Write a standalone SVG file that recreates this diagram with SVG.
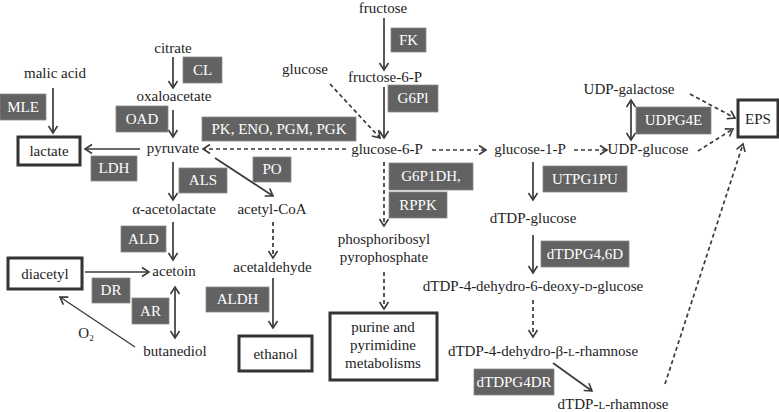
<svg xmlns="http://www.w3.org/2000/svg" width="779" height="412" viewBox="0 0 779 412">
<defs>
<marker id="ah" viewBox="-9 -6 11 12" refX="0" refY="0" markerWidth="11" markerHeight="12" markerUnits="userSpaceOnUse" orient="auto-start-reverse">
<path d="M-7,-4.5 L0,0 L-7,4.5" fill="none" stroke="#3a3a3a" stroke-width="1.6"/>
</marker>
<style>
text{font-family:"Liberation Serif","Times New Roman",serif;font-size:15px;fill:#1e1e1e;text-anchor:middle}
.enz rect{fill:#626262;stroke:#8a8a8a;stroke-width:0.8}
.enz text{fill:#ffffff}
.box rect{fill:#ffffff;stroke:#333333;stroke-width:3}
.s{fill:none;stroke:#3a3a3a;stroke-width:1.7;marker-end:url(#ah)}
.d{fill:none;stroke:#3a3a3a;stroke-width:1.7;stroke-dasharray:4 3;marker-end:url(#ah)}
.b{marker-start:url(#ah)}
.sc{font-size:11px}
</style>
</defs>

<g id="connectors">
<line class="s" x1="384" y1="18" x2="384" y2="70"/>
<line class="s" x1="384" y1="87" x2="384" y2="138"/>
<line class="d" x1="330" y1="84" x2="380" y2="138"/>
<line class="d" x1="346" y1="149" x2="203" y2="149"/>
<line class="d" x1="432" y1="150" x2="486" y2="150"/>
<line class="d" x1="574" y1="150" x2="607" y2="150"/>
<line class="s b" x1="631" y1="100" x2="631" y2="140"/>
<line class="d" x1="690" y1="94" x2="735" y2="118"/>
<line class="d" x1="698" y1="151" x2="733" y2="129"/>
<line class="d" x1="665" y1="384" x2="743" y2="144"/>
<line class="s" x1="53" y1="88" x2="53" y2="133"/>
<line class="s" x1="173" y1="57" x2="173" y2="88"/>
<line class="s" x1="173" y1="110" x2="173" y2="137"/>
<line class="s" x1="140" y1="149" x2="85" y2="149"/>
<line class="s" x1="173" y1="162" x2="173" y2="200"/>
<line class="s" x1="173" y1="222" x2="173" y2="260"/>
<line class="s" x1="85" y1="272" x2="149" y2="272"/>
<line class="s b" x1="175" y1="287" x2="175" y2="338"/>
<line class="s" x1="135" y1="347" x2="60" y2="297" style="stroke-width:1.3"/>
<line class="s" x1="215" y1="158" x2="273" y2="196"/>
<line class="d" x1="273" y1="222" x2="273" y2="258"/>
<line class="s" x1="273" y1="278" x2="273" y2="328"/>
<line class="d" x1="384" y1="162" x2="384" y2="226"/>
<line class="d" x1="384" y1="272" x2="384" y2="309"/>
<line class="s" x1="533" y1="162" x2="533" y2="200"/>
<line class="s" x1="533" y1="235" x2="533" y2="273"/>
<line class="d" x1="533" y1="300" x2="533" y2="337"/>
<line class="s" x1="553" y1="363" x2="592" y2="391"/>
</g>

<g id="fructose"><text x="383" y="13">fructose</text></g>
<g id="fructose-6-P"><text x="385" y="82">fructose-6-P</text></g>
<g id="glucose"><text x="305" y="74">glucose</text></g>
<g id="glucose-6-P"><text x="387" y="154">glucose-6-P</text></g>
<g id="citrate"><text x="173" y="53">citrate</text></g>
<g id="malic-acid"><text x="55" y="78">malic acid</text></g>
<g id="oxaloacetate"><text x="174" y="101">oxaloacetate</text></g>
<g id="pyruvate"><text x="173" y="153">pyruvate</text></g>
<g id="acetolactate"><text x="174" y="214">α-acetolactate</text></g>
<g id="acetoin"><text x="174" y="276">acetoin</text></g>
<g id="butanediol"><text x="175" y="356">butanediol</text></g>
<g id="o2"><text x="86" y="338">O<tspan font-size="9" dy="3">2</tspan></text></g>
<g id="acetyl-CoA"><text x="272" y="214">acetyl-CoA</text></g>
<g id="acetaldehyde"><text x="272.5" y="272">acetaldehyde</text></g>
<g id="prpp"><text x="384" y="244">phosphoribosyl</text><text x="384" y="262">pyrophosphate</text></g>
<g id="glucose-1-P"><text x="530" y="154">glucose-1-P</text></g>
<g id="UDP-glucose"><text x="648" y="154">UDP-glucose</text></g>
<g id="UDP-galactose"><text x="629" y="94">UDP-galactose</text></g>
<g id="dTDP-glucose"><text x="533" y="223">dTDP-glucose</text></g>
<g id="dTDP-deoxy-glucose"><text x="533" y="291">dTDP-4-dehydro-6-deoxy-<tspan class="sc">D</tspan>-glucose</text></g>
<g id="dTDP-keto-rhamnose"><text x="543" y="356">dTDP-4-dehydro-β-<tspan class="sc">L</tspan>-rhamnose</text></g>
<g id="dTDP-rhamnose"><text x="613" y="409">dTDP-<tspan class="sc">L</tspan>-rhamnose</text></g>

<g id="lactate" class="box"><rect x="18" y="137" width="62" height="28"/><text x="49" y="156">lactate</text></g>
<g id="diacetyl" class="box"><rect x="8" y="258" width="74" height="31"/><text x="45" y="279">diacetyl</text></g>
<g id="ethanol" class="box"><rect x="239" y="336" width="73" height="35"/><text x="275.5" y="359">ethanol</text></g>
<g id="purine" class="box"><rect x="330" y="313" width="107" height="67"/><text x="383" y="332">purine and</text><text x="383" y="350">pyrimidine</text><text x="383" y="368">metabolisms</text></g>
<g id="EPS" class="box"><rect x="738" y="100" width="40" height="37"/><text x="758" y="124">EPS</text></g>

<g id="MLE" class="enz"><rect x="0" y="94" width="46" height="26"/><text x="23" y="112">MLE</text></g>
<g id="CL" class="enz"><rect x="183" y="57" width="39" height="26"/><text x="202.5" y="75">CL</text></g>
<g id="OAD" class="enz"><rect x="116" y="106" width="52" height="26"/><text x="142" y="124">OAD</text></g>
<g id="PK" class="enz"><rect x="202" y="117" width="154" height="24"/><text x="279" y="134">PK, ENO, PGM, PGK</text></g>
<g id="LDH" class="enz"><rect x="91" y="156" width="46" height="25"/><text x="114" y="173">LDH</text></g>
<g id="ALS" class="enz"><rect x="179" y="168" width="48" height="25"/><text x="203" y="185">ALS</text></g>
<g id="PO" class="enz"><rect x="253" y="157" width="38" height="25"/><text x="272" y="174">PO</text></g>
<g id="ALD" class="enz"><rect x="121" y="226" width="45" height="26"/><text x="143.5" y="244">ALD</text></g>
<g id="DR" class="enz"><rect x="92" y="278" width="38" height="25"/><text x="111" y="295">DR</text></g>
<g id="AR" class="enz"><rect x="132" y="298" width="37" height="26"/><text x="150.5" y="316">AR</text></g>
<g id="ALDH" class="enz"><rect x="206" y="287" width="63" height="25"/><text x="237.5" y="304">ALDH</text></g>
<g id="FK" class="enz"><rect x="391" y="28" width="35" height="24"/><text x="408.5" y="45">FK</text></g>
<g id="G6PI" class="enz"><rect x="388" y="85" width="50" height="27"/><text x="413" y="103">G6Pl</text></g>
<g id="G6P1DH" class="enz"><rect x="389" y="163" width="84" height="27"/><text x="431" y="181">G6P1DH,</text></g>
<g id="RPPK" class="enz"><rect x="389" y="192" width="58" height="26"/><text x="418" y="210">RPPK</text></g>
<g id="UDPG4E" class="enz"><rect x="636" y="107" width="75" height="27"/><text x="673.5" y="125">UDPG4E</text></g>
<g id="UTPG1PU" class="enz"><rect x="543" y="166" width="84" height="26"/><text x="585" y="184">UTPG1PU</text></g>
<g id="dTDPG46D" class="enz"><rect x="541" y="241" width="88" height="26"/><text x="585" y="259">dTDPG4,6D</text></g>
<g id="dTDPG4DR" class="enz"><rect x="474" y="369" width="80" height="26"/><text x="514" y="387">dTDPG4DR</text></g>
</svg>
